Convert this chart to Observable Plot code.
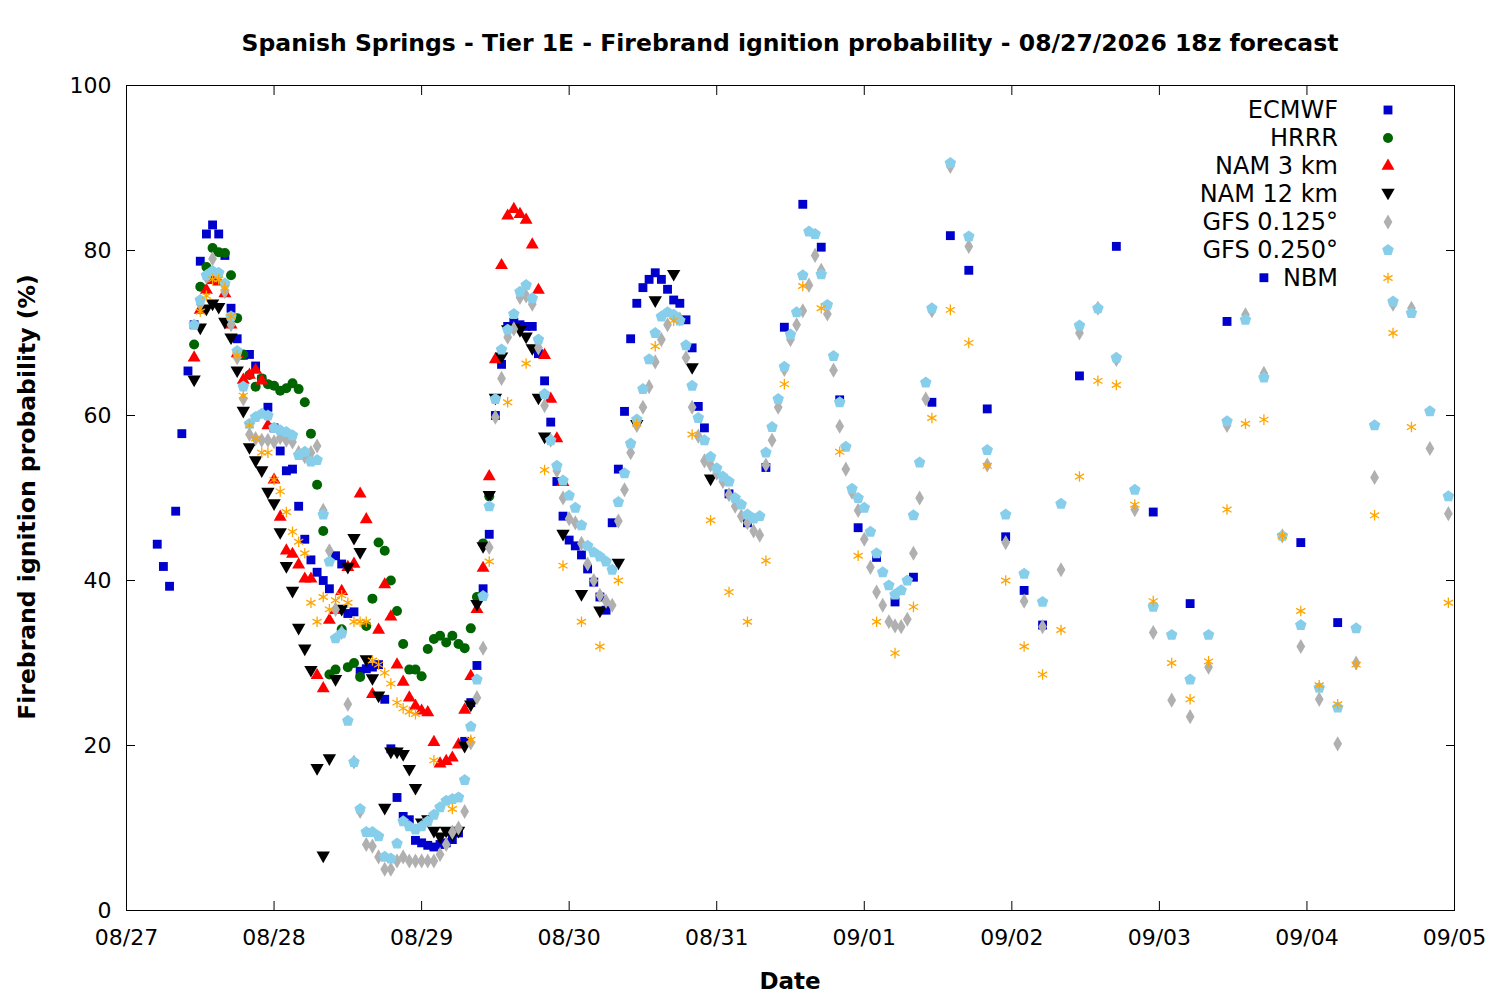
<!DOCTYPE html>
<html><head><meta charset="utf-8">
<script src="https://cdn.jsdelivr.net/npm/d3@7"></script>
<script src="https://cdn.jsdelivr.net/npm/@observablehq/plot@0.6"></script>
<style>body{margin:0;background:#fff;font-family:"DejaVu Sans",sans-serif}</style>
</head><body><div id="chart"></div>
<script>
// x positions are forecast hours after 08/27 00z; values in %
const dateTicks = [0,24,48,72,96,120,144,168,192,216];
const dateLabels = ["08/27","08/28","08/29","08/30","08/31","09/01","09/02","09/03","09/04","09/05"];
const seriesNames = ["ECMWF","HRRR","NAM 3 km","NAM 12 km","GFS 0.125°","GFS 0.250°","NBM"];

const ecmwfHourly = {start:5, step:1, values:[44.4,41.7,39.3,48.4,57.8,65.4,71,78.7,82,83.1,82,79.4,73,69.3,67.3,67.4,66,64.4,61,58.5,55.7,53.3,53.5,49,45,42.5,41,40,39,43,42,36,36.2,29,29.3,29.5,29.8,25.6,19.6,13.7,11.4,11,8.5,8.2,7.9,7.7,8,8.2,8.6,9.4,20.5,25.2,29.7,39,45.6,60,66.2,70.8,71.3,71,70.8,70.8,67.5,64.2,59.2,52,47.8,44.9,44.2,43.1,41.4,39.8,38,36.4,47,53.5,60.5,69.3,73.6,75.5,76.5,77.3,76.5,75.3,74,73.6,71.6,68.2,61.1,58.5]};
const ecmwf3h = {start:98, step:3, values:[50.5,47,53.7,70.7,85.6,80.4,61.9,46.4,42.8,37.4,40.4,61.6,81.8,77.6,60.8,45.3,38.8,34.6]};
const ecmwf6h = {start:155, step:6, values:[64.8,80.5,48.3,37.2,71.4,76.7,44.6,34.9]};

const hrrrHourly = {start:11, step:1, values:[68.6,75.6,78,80.3,79.8,79.7,77,71.8,67.4,64.9,63.5,64.5,63.8,63.6,63,63.3,63.9,63.2,61.6,57.8,51.6,46,28.6,29.2,34.1,29.5,30,28.3,34.5,37.8,44.6,43.6,40,36.3,32.3,29.2,29.2,28.4,31.7,32.9,33.3,32.5,33.3,32.3,31.8,34.2,38,44.5,50.2]};

const nam3Hourly = {start:11, step:1, values:[67,72.8,75.2,76.4,76.2,74.8,71,67.5,64.3,64.9,65.5,64.2,58.8,52.2,47.7,43.6,43.2,41.9,40.2,40.2,28.5,26.9,35.2,36.4,38.7,41.6,42,50.5,47.4,26.2,34,39.5,35.6,29.8,27.7,25.8,24.8,24.2,24,20.4,17.8,18.1,18.5,20.1,24.3,28.4,36.5,41.5,52.6,66.8,78.2,84.2,85,84.4,83.7,80.7,75.2,67.3,62,57.2,51.9]};

const nam12Hourly = {start:11, step:1, values:[64.2,70.5,72.8,73.4,73,71.2,69.3,65.3,60.4,56,54.4,53.2,50.6,49.2,45.7,41.6,38.6,34.1,31.6,29,17.1,6.5,18.3,27.9,36.4,41.5,45,43.3,30.3,28,25.9,12.3,19.1,19.1,18.8,17,14.7,10.5,10.9,9.5,8.8,9.5,9,9.5,19.8,24.8,37,44,50.2,62,67,70.3,70.5,70.2,69.4,68,62,57.3]};
const nam12_3h = {start:71, step:3, values:[45.5,38.2,36.2,42,58.8,73.8,77,65.7,52.2]};

const gfs125Hourly = {start:12, step:1, values:[73.5,76.8,79,77,75,71,67,62,57.7,57.2,57,57,56.8,57.3,57,56.8,55.5,55,55.5,56.3,48.5,43.6,36.5,33.7,25,18,12,8,7.8,6.5,5,5,6,6.5,6,6,6,6,6,6.8,8,9.5,10,12,20.3,25.8,31.8,44,59.8,64.5,69.5,70.5,74.3,74.5,73.5,68.2,61.2,57,53.3,50,47.5,47,44.5,42,40,38.2,37.5,37,47.2,51,55.5,58.8,61,63.5,66.5,69.2,71,72,71.7,67,61,57.5,54.5,54,53,52,50.4,49,47.8,47,46,45.5,54,57,61,65.6,69.2,71,72.7,75.8,79.4,77.6,72.3,65.5,58.7,53.5,50.7,48.5,45,41.6,38.6,37,35,34.5,34.4,35.3,43.3,50,62,72.7]};
const gfs125_3h = {start:134, step:3, values:[90.2,80.5,54,44.6,37.5,34.4,41.3,70,73,66.8,48.6,33.7,25.5,23.5,29.5,58.8,72.2,65.1,45.4,32,25.6,20.2,30,52.5,73.5,73,56,48.1]};

const gfs250Hourly = {start:11, step:1, values:[71,74,77,77.5,77.3,76,72,67.8,63.5,59,59.8,60.2,60,58.5,58.2,58,57.6,55.2,55.6,54.4,54.6,48,42.3,33,33.6,23,18,12.3,9.5,9.5,9,6.5,6.3,8.1,10.8,10.2,9.8,10.2,10.8,11.6,12.5,13.3,13.5,13.7,15.8,22.3,28,38.1,49,62,68,70.4,72.3,75,75.8,74.2,69.2,62.6,57,53.9,52.1,50.3,48.8,46.7,44.2,43.4,42.9,42.3,41.3,49.5,53,56.6,59.5,63.2,66.8,70,72,72.5,72.2,71.5,68.5,63.6,59.7,57,55,53.6,52.6,52,50,49.2,48,47.5,47.8,55.5,58.6,62,65.9,69.8,72.5,77,82.3,82,77.1,73.4,67.2,61.6,56.2,51.1,50,48.8,45.9,43.3,41,39.4,38.3,38.8,40,47.9,54.3,64,73]};
const gfs250_3h = {start:134, step:3, values:[90.6,81.7,55.8,48,40.8,37.4,49.3,70.9,73,67,51,36.8,33.4,28,33.4,59.3,71.6,64.6,45.4,34.6,27,24.6,34.2,58.8,73.8,72.4,60.5,50.2]};

const nbmHourly = {start:12, step:1, values:[72.6,74.5,76.5,76.5,75.5,72,67.3,62.4,58.8,57.2,55.5,55.5,52.2,50.8,48.3,45.9,44.7,43.3,37.3,35,38,36.5,37.6,38.2,37.3,35,35,35,30.3,29.8,28.8,27.5,25.2,24.5,24.1,23.8]};
const nbm3h = {start:50, step:3, values:[18.2,12.3,20.7,42.3,61.6,66.3,53.4,41.8,35,32,40,59,68.4,71.5,57.7,47.3,38.6,35,42.4,63.8,75.7,73,55.6,43,35,31.2,36.8,59.7,72.8,68.8,53.9,40,32,28.6,34,52.6,64.2,63.7,49.2,37.5,30,25.6,30.2,48.6,59,59.5,45.4,36.3,27.3,25,29.8,47.9,70,58.6]};
const nbmLast = {start:215, step:3, values:[37.3]};

function rows(...segs){return segs.flatMap(s=>s.values.map((v,i)=>({h:s.start+i*s.step,v})));}

const triDown = {draw(ctx,size){const r=Math.sqrt(size/1.3);ctx.moveTo(-r,-r*0.8);ctx.lineTo(r,-r*0.8);ctx.lineTo(0,r*0.95);ctx.closePath();}};
const pentagon = {draw(ctx,size){const r=Math.sqrt(size/2.4);for(let i=0;i<5;i++){const a=-Math.PI/2+i*2*Math.PI/5;const x=r*Math.cos(a),y=r*Math.sin(a);i?ctx.lineTo(x,y):ctx.moveTo(x,y);}ctx.closePath();}};

const styles = [
 {data:rows(ecmwfHourly,ecmwf3h,ecmwf6h), symbol:"square", fill:"#0000cd", r:5},
 {data:rows(hrrrHourly), symbol:"circle", fill:"#006400", r:5},
 {data:rows(nam3Hourly), symbol:"triangle", fill:"#ff0000", r:4.8},
 {data:rows(nam12Hourly,nam12_3h), symbol:triDown, fill:"#000000", r:4.3},
 {data:rows(gfs125Hourly,gfs125_3h), symbol:"diamond", fill:"#b0b0b0", r:4.6},
 {data:rows(gfs250Hourly,gfs250_3h), symbol:pentagon, fill:"#87ceeb", r:5.3},
 {data:rows(nbmHourly,nbm3h,nbmLast), symbol:"asterisk", stroke:"#ffa500", r:5},
];

const marks = [Plot.frame({stroke:"#000"})];
styles.forEach(s=>{
  marks.push(s.stroke
    ? Plot.dot(s.data,{x:"h",y:"v",symbol:s.symbol,stroke:s.stroke,strokeWidth:1.3,r:s.r})
    : Plot.dot(s.data,{x:"h",y:"v",symbol:s.symbol,fill:s.fill,stroke:"none",r:s.r}));
});
marks.push(
  Plot.axisX({ticks:dateTicks,tickFormat:(d)=>dateLabels[dateTicks.indexOf(d)],tickSize:-9,tickPadding:28,fontSize:22,label:null}),
  Plot.axisX({anchor:"top",ticks:dateTicks,tickFormat:()=>"",tickSize:-9,label:null}),
  Plot.axisY({ticks:[0,20,40,60,80,100],tickSize:-9,tickPadding:24,fontSize:22,label:null}),
  Plot.axisY({anchor:"right",ticks:[0,20,40,60,80,100],tickFormat:()=>"",tickSize:-9,label:null})
);

const chart = Plot.plot({
  width:1500,height:1000,marginLeft:126,marginRight:46,marginTop:85,marginBottom:90,
  style:{fontFamily:"DejaVu Sans",color:"#000",background:"#fff"},
  x:{domain:[0,216]}, y:{domain:[0,100]},
  marks
});
document.getElementById("chart").appendChild(chart);

const svg = d3.select(chart);
svg.append("text").attr("x",790).attr("y",51).attr("text-anchor","middle")
  .style("font","bold 23.5px 'DejaVu Sans'").text("Spanish Springs - Tier 1E - Firebrand ignition probability - 08/27/2026 18z forecast");
svg.append("text").attr("x",790).attr("y",989).attr("text-anchor","middle")
  .style("font","bold 23px 'DejaVu Sans'").text("Date");
svg.append("text").attr("transform","translate(35,497) rotate(-90)").attr("text-anchor","middle")
  .style("font","bold 23.5px 'DejaVu Sans'").text("Firebrand ignition probability (%)");

const lg = svg.append("g");
styles.forEach((s,i)=>{
  const y = 110 + i*28;
  lg.append("text").attr("x",1338).attr("y",y+8).attr("text-anchor","end").style("font","24px 'DejaVu Sans'").text(seriesNames[i]);
  const typ = typeof s.symbol==="string" ? {square:d3.symbolSquare,circle:d3.symbolCircle,triangle:d3.symbolTriangle,diamond:d3.symbolDiamond,asterisk:d3.symbolAsterisk}[s.symbol] : s.symbol;
  lg.append("path").attr("transform",`translate(1388,${y})`).attr("d",d3.symbol(typ,Math.PI*s.r*s.r)())
    .attr("fill",s.stroke?"none":s.fill).attr("stroke",s.stroke||"none").attr("stroke-width",1.3);
});
</script></body></html>
